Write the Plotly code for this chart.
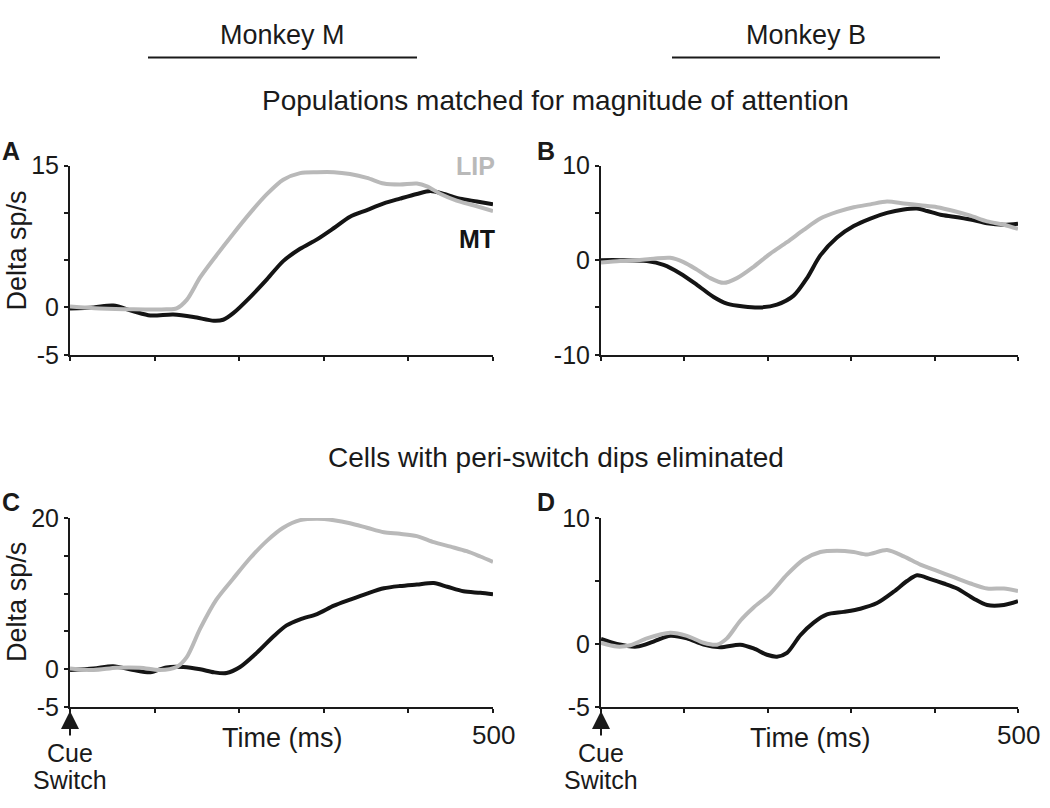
import plotly.graph_objects as go

W, H = 1050, 808

# ---- data (time in ms, response delta in sp/s) ----
a_lip_t = [0, 35, 75, 114, 126, 138, 154, 173, 193, 213, 233, 252, 272, 292, 312, 331, 351, 371, 390, 410, 422, 438, 457, 477, 500]
a_lip_v = [0.1, -0.1, -0.2, -0.2, -0.1, 0.8, 3.2, 5.5, 7.8, 10.0, 12.0, 13.5, 14.2, 14.3, 14.3, 14.1, 13.7, 13.1, 13.0, 13.1, 12.8, 12.0, 11.3, 10.8, 10.2]
a_mt_t = [0, 28, 51, 75, 95, 122, 146, 170, 181, 193, 213, 233, 252, 272, 292, 312, 331, 351, 371, 390, 410, 426, 442, 461, 481, 500]
a_mt_v = [-0.1, 0.0, 0.2, -0.4, -0.85, -0.75, -1.0, -1.4, -1.3, -0.6, 1.1, 3.0, 4.9, 6.2, 7.2, 8.4, 9.6, 10.3, 11.0, 11.5, 12.0, 12.3, 12.0, 11.5, 11.2, 10.9]

b_lip_t = [0, 23, 43, 63, 83, 99, 115, 131, 147, 163, 183, 203, 223, 243, 263, 283, 303, 323, 343, 363, 383, 403, 423, 443, 463, 483, 500]
b_lip_v = [-0.25, -0.1, 0.0, 0.15, 0.25, -0.2, -1.0, -1.9, -2.4, -1.9, -0.7, 0.7, 1.9, 3.2, 4.4, 5.1, 5.6, 5.9, 6.2, 6.0, 5.8, 5.6, 5.2, 4.7, 4.1, 3.75, 3.3]
b_mt_t = [0, 23, 55, 75, 95, 115, 135, 151, 171, 191, 211, 231, 247, 263, 283, 303, 323, 343, 363, 379, 391, 407, 423, 443, 463, 483, 500]
b_mt_v = [0.0, 0.0, -0.1, -0.5, -1.4, -2.6, -3.9, -4.6, -4.9, -5.0, -4.7, -3.75, -1.9, 0.5, 2.4, 3.6, 4.4, 5.0, 5.35, 5.45, 5.2, 4.8, 4.6, 4.3, 3.9, 3.75, 3.85]

c_lip_t = [0, 28, 55, 83, 106, 126, 138, 154, 173, 193, 213, 233, 252, 272, 292, 312, 331, 351, 371, 390, 410, 430, 450, 469, 485, 500]
c_lip_v = [0.1, -0.1, 0.2, 0.2, -0.1, 0.3, 1.6, 5.4, 9.2, 12.0, 14.7, 17.0, 18.7, 19.7, 19.9, 19.7, 19.3, 18.7, 18.1, 17.9, 17.6, 16.8, 16.2, 15.6, 14.9, 14.2]
c_mt_t = [0, 28, 51, 75, 95, 114, 134, 154, 170, 185, 201, 221, 241, 256, 272, 292, 312, 331, 351, 371, 390, 410, 430, 446, 465, 485, 500]
c_mt_v = [-0.1, 0.1, 0.4, -0.1, -0.4, 0.25, 0.3, 0.0, -0.4, -0.5, 0.3, 2.2, 4.4, 5.8, 6.6, 7.3, 8.4, 9.2, 10.0, 10.7, 11.0, 11.2, 11.4, 10.9, 10.3, 10.1, 9.9]

d_lip_t = [0, 19, 35, 55, 83, 103, 123, 139, 151, 167, 183, 203, 223, 243, 263, 283, 303, 319, 343, 363, 383, 403, 423, 443, 463, 483, 500]
d_lip_v = [0.1, -0.2, -0.1, 0.45, 0.9, 0.65, 0.1, -0.05, 0.45, 1.85, 2.9, 4.0, 5.5, 6.7, 7.3, 7.4, 7.3, 7.1, 7.45, 6.95, 6.3, 5.8, 5.3, 4.8, 4.4, 4.4, 4.2]
d_mt_t = [0, 19, 43, 63, 83, 103, 123, 143, 167, 183, 199, 211, 223, 239, 255, 271, 291, 311, 331, 351, 367, 379, 395, 411, 427, 447, 463, 483, 500]
d_mt_v = [0.4, 0.0, -0.2, 0.2, 0.65, 0.45, -0.05, -0.25, -0.05, -0.35, -0.85, -1.0, -0.7, 0.7, 1.7, 2.35, 2.55, 2.8, 3.25, 4.15, 5.0, 5.45, 5.15, 4.8, 4.4, 3.6, 3.1, 3.1, 3.4]

y_ranges = {"A": [-5, 15], "B": [-10, 10], "C": [-5, 20], "D": [-5, 10]}
y_tickvals = {"A": [-5, 0, 5, 10, 15], "B": [-10, -5, 0, 5, 10], "C": [-5, 0, 5, 10, 15, 20], "D": [-5, 0, 5, 10]}
y_ticktext = {"A": ["-5", "0", "", "", "15"], "B": ["-10", "", "0", "", "10"],
              "C": ["-5", "0", "", "", "", "20"], "D": ["-5", "0", "", "10"]}
x_tickvals = [0, 100, 200, 300, 400, 500]

LIP_COLOR = "#b9b9b9"
MT_COLOR = "#141414"
INK = "#1a1a1a"
FONT = "Liberation Sans, Arial, sans-serif"

# panel pixel boxes: (left, right, top, bottom)
boxes = {"A": (70, 493, 157, 353), "B": (601, 1018, 157, 353),
         "C": (70, 493, 522, 718), "D": (601, 1018, 522, 718)}


def px(x):
    return x / W


def py(y):
    return 1 - y / H


fig = go.Figure()
series = {"A": (a_lip_t, a_lip_v, a_mt_t, a_mt_v), "B": (b_lip_t, b_lip_v, b_mt_t, b_mt_v),
          "C": (c_lip_t, c_lip_v, c_mt_t, c_mt_v), "D": (d_lip_t, d_lip_v, d_mt_t, d_mt_v)}

layout = dict(width=W, height=H, margin=dict(l=0, r=0, t=0, b=0),
              paper_bgcolor="white", plot_bgcolor="white", showlegend=False,
              font=dict(family=FONT, color=INK))

for i, name in enumerate(["A", "B", "C", "D"]):
    n = "" if i == 0 else str(i + 1)
    l, r, t, b = boxes[name]
    lt, lv, mt, mv = series[name]
    fig.add_trace(go.Scatter(x=mt, y=mv, mode="lines",
                             line=dict(color=MT_COLOR, width=4, shape="spline", smoothing=0.8),
                             xaxis="x" + n, yaxis="y" + n))
    fig.add_trace(go.Scatter(x=lt, y=lv, mode="lines",
                             line=dict(color=LIP_COLOR, width=4, shape="spline", smoothing=0.8),
                             xaxis="x" + n, yaxis="y" + n))
    layout["xaxis" + n] = dict(domain=[px(l), px(r)], range=[0, 500], anchor="y" + n,
                               showgrid=False, zeroline=False, showline=True, linecolor=INK, linewidth=2,
                               ticks="outside", ticklen=4, tickwidth=2, tickcolor=INK,
                               tickvals=x_tickvals, showticklabels=False)
    layout["yaxis" + n] = dict(domain=[py(b), py(t)], range=y_ranges[name], anchor="x" + n,
                               showgrid=False, zeroline=False, showline=True, linecolor=INK, linewidth=2,
                               ticks="outside", ticklen=4, tickwidth=2, tickcolor=INK,
                               tickvals=y_tickvals[name], ticktext=y_ticktext[name],
                               tickfont=dict(size=25, family=FONT, color=INK))

fig.update_layout(**layout)

anns = []


def txt(x, y, s, size=27, color=INK, bold=False, xanchor="center"):
    anns.append(dict(x=px(x), y=py(y), xref="paper", yref="paper", text=("<b>%s</b>" % s) if bold else s,
                     showarrow=False, xanchor=xanchor, yanchor="middle",
                     font=dict(size=size, family=FONT, color=color)))


# headers
txt(282, 22, "Monkey M", size=27)
txt(806, 22, "Monkey B", size=27)
txt(555, 90, "Populations matched for magnitude of attention", size=28)
txt(556, 459, "Cells with peri-switch dips eliminated", size=28)
# panel letters
txt(11, 142, "A", size=25, bold=True)
txt(546, 142, "B", size=25, bold=True)
txt(11, 506, "C", size=25, bold=True)
txt(546, 506, "D", size=25, bold=True)
# series labels
txt(475, 157, "LIP", size=25, color=LIP_COLOR, bold=True)
txt(477, 233, "MT", size=25, color=MT_COLOR, bold=True)

# y-axis titles
for yc in (245, 609):
    anns.append(dict(x=px(17), y=py(yc), xref="paper", yref="paper", text="Delta sp/s", textangle=-90,
                     showarrow=False, xanchor="center", yanchor="middle",
                     font=dict(size=27, family=FONT, color=INK)))

# bottom axis labels
for n in ("3", "4"):
    anns.append(dict(x=500, y=py(747), xref="x" + n, yref="paper", text="500", showarrow=False,
                     xanchor="center", yanchor="middle", font=dict(size=26, family=FONT, color=INK)))
    anns.append(dict(x=250, y=py(750), xref="x" + n, yref="paper", text="Time (ms)", showarrow=False,
                     xanchor="center", yanchor="middle", font=dict(size=27, family=FONT, color=INK)))
    anns.append(dict(x=0, y=py(766), xref="x" + n, yref="paper", text="Cue", showarrow=False,
                     xanchor="center", yanchor="middle", font=dict(size=25, family=FONT, color=INK)))
    anns.append(dict(x=0, y=py(794), xref="x" + n, yref="paper", text="Switch", showarrow=False,
                     xanchor="center", yanchor="middle", font=dict(size=25, family=FONT, color=INK)))
    anns.append(dict(x=0, y=-5, xref="x" + n, yref="y" + n, text="", showarrow=True, ax=0, ay=30,
                     arrowhead=2, arrowsize=1.8, arrowwidth=2, arrowcolor=INK, standoff=4))

fig.update_layout(annotations=anns)

fig.update_layout(shapes=[
    dict(type="line", xref="paper", yref="paper", x0=px(148), x1=px(417), y0=py(45), y1=py(45),
         line=dict(color=INK, width=2)),
    dict(type="line", xref="paper", yref="paper", x0=px(672), x1=px(940), y0=py(45), y1=py(45),
         line=dict(color=INK, width=2)),
])

fig.write_html("out.html", config={"displayModeBar": False},
               post_script="document.body.style.margin='0';")
